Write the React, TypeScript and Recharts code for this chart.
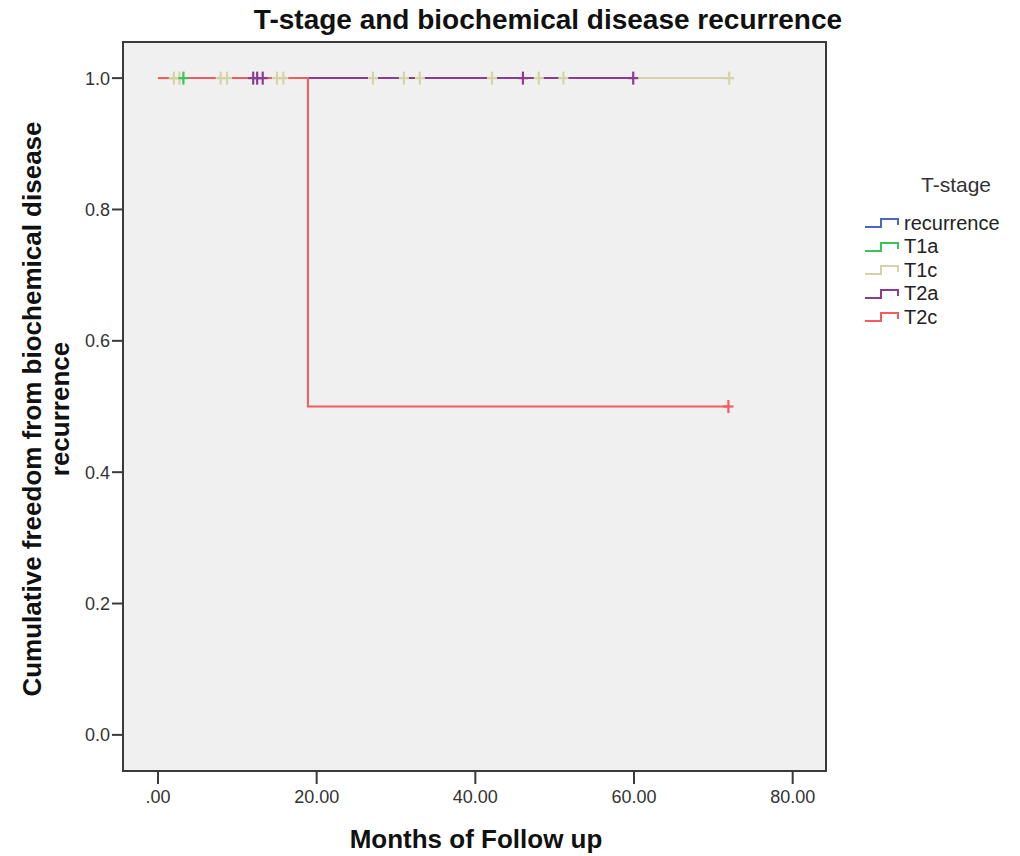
import React from 'react';
import {
  ComposedChart,
  Line,
  Scatter,
  XAxis,
  YAxis,
  ReferenceArea,
} from 'recharts';

// ---- data (months of follow-up, cumulative freedom from recurrence) ----
const GROUPS = ['recurrence', 'T1a', 'T1c', 'T2a', 'T2c'];
const GROUP_COLORS = ['#4a68c2', '#3cc35c', '#d6d2a2', '#8c3b91', '#f25b60'];

// step curve knots for each group (time, survival)
const T1A_TIMES = [0, 3.2];
const T1A_SURV = [1, 1];
const T1C_TIMES = [0, 72.0];
const T1C_SURV = [1, 1];
const T2A_TIMES = [0, 59.9];
const T2A_SURV = [1, 1];
const T2C_TIMES = [0, 18.9, 71.9];
const T2C_SURV = [1, 0.5, 0.5];

// censored observations (time, survival at that time)
const T1A_CENS_T = [3.2];
const T1A_CENS_S = [1];
const T1C_CENS_T = [2.0, 2.7, 7.9, 8.7, 15.0, 15.8, 27.1, 31.0, 33.0, 42.1, 48.0, 51.1, 72.0];
const T1C_CENS_S = [1, 1, 1, 1, 1, 1, 1, 1, 1, 1, 1, 1, 1];
const T2A_CENS_T = [12.0, 12.5, 13.2, 46.0, 59.9];
const T2A_CENS_S = [1, 1, 1, 1, 1];
const T2C_CENS_T = [71.9];
const T2C_CENS_S = [0.5];

const X_TICKS = [0, 20, 40, 60, 80];
const Y_TICKS = [0, 0.2, 0.4, 0.6, 0.8, 1.0];
const X_DOMAIN: [number, number] = [-4.41, 84.2];
const Y_DOMAIN: [number, number] = [-0.055, 1.055];

const zip = (ts: number[], ss: number[]) => ts.map((t, i) => ({ t, s: ss[i] }));

const t1aCurve = zip(T1A_TIMES, T1A_SURV);
const t1cCurve = zip(T1C_TIMES, T1C_SURV);
const t2aCurve = zip(T2A_TIMES, T2A_SURV);
const t2cCurve = zip(T2C_TIMES, T2C_SURV);
const t1aCens = zip(T1A_CENS_T, T1A_CENS_S);
const t1cCens = zip(T1C_CENS_T, T1C_CENS_S);
const t2aCens = zip(T2A_CENS_T, T2A_CENS_S);
const t2cCens = zip(T2C_CENS_T, T2C_CENS_S);

const makePlus = (color: string) => (props: any) => {
  const { cx, cy } = props;
  if (cx == null || cy == null) return <g />;
  return (
    <g>
      <line x1={cx - 5} x2={cx + 5} y1={cy} y2={cy} stroke={color} strokeWidth={2.2} />
      <line x1={cx} x2={cx} y1={cy - 6.5} y2={cy + 6.5} stroke={color} strokeWidth={2.2} />
    </g>
  );
};

const fmtX = (v: number) => (v === 0 ? '.00' : v.toFixed(2));
const fmtY = (v: number) => v.toFixed(1);

const FONT = 'Arial, "Liberation Sans", Helvetica, sans-serif';
const AXIS_COLOR = '#3a3a3a';

const LegendIcon = ({ color }: { color: string }) => (
  <svg width={38} height={14} style={{ display: 'block' }}>
    <path d="M1 11 H17 V3 H34 V9" fill="none" stroke={color} strokeWidth={2} />
  </svg>
);

export default function App() {
  return (
    <div
      style={{
        position: 'absolute',
        left: 0,
        top: 0,
        width: 1020,
        height: 856,
        background: '#ffffff',
        fontFamily: FONT,
        overflow: 'hidden',
      }}
    >
      <ComposedChart
        width={1020}
        height={856}
        margin={{ top: 42, right: 194, bottom: 45, left: 63 }}
      >
        <XAxis
          type="number"
          dataKey="t"
          domain={X_DOMAIN}
          allowDataOverflow
          ticks={X_TICKS}
          tickFormatter={fmtX}
          height={40}
          tickSize={13}
          tickMargin={6}
          axisLine={{ stroke: AXIS_COLOR, strokeWidth: 2 }}
          tickLine={{ stroke: AXIS_COLOR, strokeWidth: 2 }}
          tick={{ fill: '#333', fontSize: 18, fontFamily: FONT }}
        />
        <YAxis
          type="number"
          dataKey="s"
          domain={Y_DOMAIN}
          allowDataOverflow
          ticks={Y_TICKS}
          tickFormatter={fmtY}
          width={60}
          tickSize={11}
          tickMargin={2}
          axisLine={{ stroke: AXIS_COLOR, strokeWidth: 2 }}
          tickLine={{ stroke: AXIS_COLOR, strokeWidth: 2 }}
          tick={{ fill: '#333', fontSize: 18, fontFamily: FONT }}
        />
        <ReferenceArea
          x1={X_DOMAIN[0]}
          x2={X_DOMAIN[1]}
          y1={Y_DOMAIN[0]}
          y2={Y_DOMAIN[1]}
          fill="#f0f0f0"
          fillOpacity={1}
          stroke={AXIS_COLOR}
          strokeWidth={2}
          ifOverflow="visible"
        />
        <Line data={t1cCurve} dataKey="s" type="stepAfter" stroke={GROUP_COLORS[2]} strokeWidth={2} dot={false} activeDot={false} isAnimationActive={false} />
        <Line data={t2aCurve} dataKey="s" type="stepAfter" stroke={GROUP_COLORS[3]} strokeWidth={2} dot={false} activeDot={false} isAnimationActive={false} />
        <Line data={t1aCurve} dataKey="s" type="stepAfter" stroke={GROUP_COLORS[1]} strokeWidth={2} dot={false} activeDot={false} isAnimationActive={false} />
        <Line data={t2cCurve} dataKey="s" type="stepAfter" stroke={GROUP_COLORS[4]} strokeWidth={2} dot={false} activeDot={false} isAnimationActive={false} />
        <Scatter data={t1cCens} dataKey="s" shape={makePlus(GROUP_COLORS[2])} isAnimationActive={false} />
        <Scatter data={t1aCens} dataKey="s" shape={makePlus(GROUP_COLORS[1])} isAnimationActive={false} />
        <Scatter data={t2aCens} dataKey="s" shape={makePlus(GROUP_COLORS[3])} isAnimationActive={false} />
        <Scatter data={t2cCens} dataKey="s" shape={makePlus(GROUP_COLORS[4])} isAnimationActive={false} />
      </ComposedChart>

      {/* title */}
      <div
        style={{
          position: 'absolute',
          left: 0,
          width: 1096,
          top: 4,
          textAlign: 'center',
          fontSize: 28,
          fontWeight: 'bold',
          color: '#111',
          whiteSpace: 'nowrap',
        }}
      >
        T-stage and biochemical disease recurrence
      </div>

      {/* x-axis title */}
      <div
        style={{
          position: 'absolute',
          left: 0,
          width: 952,
          top: 824,
          textAlign: 'center',
          fontSize: 26,
          fontWeight: 'bold',
          color: '#111',
          whiteSpace: 'nowrap',
        }}
      >
        Months of Follow up
      </div>

      {/* y-axis title */}
      <div
        style={{
          position: 'absolute',
          left: 48,
          top: 409,
          width: 0,
          height: 0,
        }}
      >
        <div
          style={{
            position: 'absolute',
            left: -400,
            top: -30,
            width: 800,
            textAlign: 'center',
            transform: 'rotate(-90deg)',
            transformOrigin: '400px 30px',
            fontSize: 26,
            fontWeight: 'bold',
            color: '#111',
            lineHeight: '28px',
            whiteSpace: 'nowrap',
          }}
        >
          <div>Cumulative freedom from biochemical disease</div>
          <div>recurrence</div>
        </div>
      </div>

      {/* legend */}
      <div
        style={{
          position: 'absolute',
          left: 921,
          top: 173,
          fontSize: 21,
          color: '#333',
          whiteSpace: 'nowrap',
        }}
      >
        T-stage
      </div>
      {GROUPS.map((g, i) => (
        <div
          key={g}
          style={{
            position: 'absolute',
            left: 864,
            top: 211 + i * 23.5,
            height: 24,
            display: 'flex',
            alignItems: 'center',
            fontSize: 20,
            color: '#222',
            whiteSpace: 'nowrap',
          }}
        >
          <LegendIcon color={GROUP_COLORS[i]} />
          <span style={{ marginLeft: 2 }}>{g}</span>
        </div>
      ))}
    </div>
  );
}
